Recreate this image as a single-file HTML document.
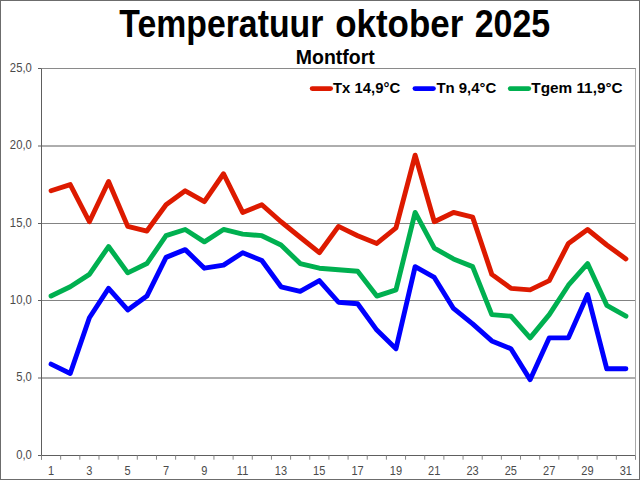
<!DOCTYPE html>
<html><head><meta charset="utf-8"><title>Temperatuur oktober 2025</title>
<style>html,body{margin:0;padding:0;background:#fff;}body{width:640px;height:480px;overflow:hidden;}svg{display:block;}text{font-family:"Liberation Sans",sans-serif;}</style>
</head><body>
<svg width="640" height="480" viewBox="0 0 640 480">
<rect x="0" y="0" width="640" height="480" fill="#ffffff"/>
<line x1="41.5" y1="378.0" x2="635.5" y2="378.0" stroke="#5c5c5c" stroke-width="1"/>
<line x1="41.5" y1="300.5" x2="635.5" y2="300.5" stroke="#838383" stroke-width="1"/>
<line x1="41.5" y1="223.5" x2="635.5" y2="223.5" stroke="#838383" stroke-width="1"/>
<line x1="41.5" y1="146.0" x2="635.5" y2="146.0" stroke="#5c5c5c" stroke-width="1"/>
<line x1="41.5" y1="68.5" x2="636.0" y2="68.5" stroke="#8a8a8a" stroke-width="1"/>
<line x1="635.5" y1="68.5" x2="635.5" y2="459.5" stroke="#aaaaaa" stroke-width="1"/>
<polyline points="51.08,190.79 70.24,184.60 89.40,221.75 108.56,181.50 127.73,226.40 146.89,231.04 166.05,204.72 185.21,190.79 204.37,201.63 223.53,173.76 242.69,212.46 261.85,204.72 281.02,221.75 300.18,237.23 319.34,252.71 338.50,226.40 357.66,235.68 376.82,243.42 395.98,227.94 415.15,155.19 434.31,221.75 453.47,212.46 472.63,217.11 491.79,274.38 510.95,288.32 530.11,289.86 549.27,280.58 568.44,243.42 587.60,229.49 606.76,244.97 625.92,258.90" fill="none" stroke="#dd1a00" stroke-width="4.9" stroke-linecap="round" stroke-linejoin="round"/>
<polyline points="51.08,364.17 70.24,373.46 89.40,317.73 108.56,288.32 127.73,309.99 146.89,296.06 166.05,257.36 185.21,249.62 204.37,268.19 223.53,265.10 242.69,252.71 261.85,260.45 281.02,286.77 300.18,291.41 319.34,280.58 338.50,302.25 357.66,303.80 376.82,330.11 395.98,348.69 415.15,266.64 434.31,277.48 453.47,308.44 472.63,323.92 491.79,340.95 510.95,348.69 530.11,379.65 549.27,337.85 568.44,337.85 587.60,294.51 606.76,368.81 625.92,368.81" fill="none" stroke="#0000ff" stroke-width="4.9" stroke-linecap="round" stroke-linejoin="round"/>
<polyline points="51.08,296.06 70.24,286.77 89.40,274.38 108.56,246.52 127.73,272.84 146.89,263.55 166.05,235.68 185.21,229.49 204.37,241.88 223.53,229.49 242.69,234.14 261.85,235.68 281.02,244.97 300.18,263.55 319.34,268.19 338.50,269.74 357.66,271.29 376.82,296.06 395.98,289.86 415.15,212.46 434.31,248.07 453.47,258.90 472.63,266.64 491.79,314.63 510.95,316.18 530.11,337.85 549.27,314.63 568.44,285.22 587.60,263.55 606.76,305.34 625.92,316.18" fill="none" stroke="#00b050" stroke-width="4.9" stroke-linecap="round" stroke-linejoin="round"/>
<line x1="41.5" y1="68.5" x2="41.5" y2="459.5" stroke="#5e5e5e" stroke-width="1"/>
<line x1="38.0" y1="455.5" x2="635.0" y2="455.5" stroke="#5e5e5e" stroke-width="1"/>
<line x1="38.0" y1="455.50" x2="41.5" y2="455.50" stroke="#5e5e5e" stroke-width="1"/>
<text transform="translate(31.8,458.70) scale(0.94,1)" x="0" y="0" font-size="12" fill="#4a4a4a" text-anchor="end">0,0</text>
<line x1="38.0" y1="378.00" x2="41.5" y2="378.00" stroke="#5e5e5e" stroke-width="1"/>
<text transform="translate(31.8,381.20) scale(0.94,1)" x="0" y="0" font-size="12" fill="#4a4a4a" text-anchor="end">5,0</text>
<line x1="38.0" y1="300.50" x2="41.5" y2="300.50" stroke="#5e5e5e" stroke-width="1"/>
<text transform="translate(31.8,303.70) scale(0.94,1)" x="0" y="0" font-size="12" fill="#4a4a4a" text-anchor="end">10,0</text>
<line x1="38.0" y1="223.50" x2="41.5" y2="223.50" stroke="#5e5e5e" stroke-width="1"/>
<text transform="translate(31.8,226.70) scale(0.94,1)" x="0" y="0" font-size="12" fill="#4a4a4a" text-anchor="end">15,0</text>
<line x1="38.0" y1="146.00" x2="41.5" y2="146.00" stroke="#5e5e5e" stroke-width="1"/>
<text transform="translate(31.8,149.20) scale(0.94,1)" x="0" y="0" font-size="12" fill="#4a4a4a" text-anchor="end">20,0</text>
<line x1="38.0" y1="68.50" x2="41.5" y2="68.50" stroke="#5e5e5e" stroke-width="1"/>
<text transform="translate(31.8,71.70) scale(0.94,1)" x="0" y="0" font-size="12" fill="#4a4a4a" text-anchor="end">25,0</text>
<line x1="41.50" y1="455.5" x2="41.50" y2="459.7" stroke="#878787" stroke-width="1"/>
<line x1="60.66" y1="455.5" x2="60.66" y2="459.7" stroke="#878787" stroke-width="1"/>
<line x1="79.82" y1="455.5" x2="79.82" y2="459.7" stroke="#878787" stroke-width="1"/>
<line x1="98.98" y1="455.5" x2="98.98" y2="459.7" stroke="#878787" stroke-width="1"/>
<line x1="118.15" y1="455.5" x2="118.15" y2="459.7" stroke="#878787" stroke-width="1"/>
<line x1="137.31" y1="455.5" x2="137.31" y2="459.7" stroke="#878787" stroke-width="1"/>
<line x1="156.47" y1="455.5" x2="156.47" y2="459.7" stroke="#878787" stroke-width="1"/>
<line x1="175.63" y1="455.5" x2="175.63" y2="459.7" stroke="#878787" stroke-width="1"/>
<line x1="194.79" y1="455.5" x2="194.79" y2="459.7" stroke="#878787" stroke-width="1"/>
<line x1="213.95" y1="455.5" x2="213.95" y2="459.7" stroke="#878787" stroke-width="1"/>
<line x1="233.11" y1="455.5" x2="233.11" y2="459.7" stroke="#878787" stroke-width="1"/>
<line x1="252.27" y1="455.5" x2="252.27" y2="459.7" stroke="#878787" stroke-width="1"/>
<line x1="271.44" y1="455.5" x2="271.44" y2="459.7" stroke="#878787" stroke-width="1"/>
<line x1="290.60" y1="455.5" x2="290.60" y2="459.7" stroke="#878787" stroke-width="1"/>
<line x1="309.76" y1="455.5" x2="309.76" y2="459.7" stroke="#878787" stroke-width="1"/>
<line x1="328.92" y1="455.5" x2="328.92" y2="459.7" stroke="#878787" stroke-width="1"/>
<line x1="348.08" y1="455.5" x2="348.08" y2="459.7" stroke="#878787" stroke-width="1"/>
<line x1="367.24" y1="455.5" x2="367.24" y2="459.7" stroke="#878787" stroke-width="1"/>
<line x1="386.40" y1="455.5" x2="386.40" y2="459.7" stroke="#878787" stroke-width="1"/>
<line x1="405.56" y1="455.5" x2="405.56" y2="459.7" stroke="#878787" stroke-width="1"/>
<line x1="424.73" y1="455.5" x2="424.73" y2="459.7" stroke="#878787" stroke-width="1"/>
<line x1="443.89" y1="455.5" x2="443.89" y2="459.7" stroke="#878787" stroke-width="1"/>
<line x1="463.05" y1="455.5" x2="463.05" y2="459.7" stroke="#878787" stroke-width="1"/>
<line x1="482.21" y1="455.5" x2="482.21" y2="459.7" stroke="#878787" stroke-width="1"/>
<line x1="501.37" y1="455.5" x2="501.37" y2="459.7" stroke="#878787" stroke-width="1"/>
<line x1="520.53" y1="455.5" x2="520.53" y2="459.7" stroke="#878787" stroke-width="1"/>
<line x1="539.69" y1="455.5" x2="539.69" y2="459.7" stroke="#878787" stroke-width="1"/>
<line x1="558.85" y1="455.5" x2="558.85" y2="459.7" stroke="#878787" stroke-width="1"/>
<line x1="578.02" y1="455.5" x2="578.02" y2="459.7" stroke="#878787" stroke-width="1"/>
<line x1="597.18" y1="455.5" x2="597.18" y2="459.7" stroke="#878787" stroke-width="1"/>
<line x1="616.34" y1="455.5" x2="616.34" y2="459.7" stroke="#878787" stroke-width="1"/>
<line x1="635.50" y1="455.5" x2="635.50" y2="459.7" stroke="#878787" stroke-width="1"/>
<text transform="translate(50.98,474.8) scale(0.92,1)" x="0" y="0" font-size="12" fill="#4a4a4a" text-anchor="middle">1</text>
<text transform="translate(89.30,474.8) scale(0.92,1)" x="0" y="0" font-size="12" fill="#4a4a4a" text-anchor="middle">3</text>
<text transform="translate(127.63,474.8) scale(0.92,1)" x="0" y="0" font-size="12" fill="#4a4a4a" text-anchor="middle">5</text>
<text transform="translate(165.95,474.8) scale(0.92,1)" x="0" y="0" font-size="12" fill="#4a4a4a" text-anchor="middle">7</text>
<text transform="translate(204.27,474.8) scale(0.92,1)" x="0" y="0" font-size="12" fill="#4a4a4a" text-anchor="middle">9</text>
<text transform="translate(242.59,474.8) scale(0.92,1)" x="0" y="0" font-size="12" fill="#4a4a4a" text-anchor="middle">11</text>
<text transform="translate(280.92,474.8) scale(0.92,1)" x="0" y="0" font-size="12" fill="#4a4a4a" text-anchor="middle">13</text>
<text transform="translate(319.24,474.8) scale(0.92,1)" x="0" y="0" font-size="12" fill="#4a4a4a" text-anchor="middle">15</text>
<text transform="translate(357.56,474.8) scale(0.92,1)" x="0" y="0" font-size="12" fill="#4a4a4a" text-anchor="middle">17</text>
<text transform="translate(395.88,474.8) scale(0.92,1)" x="0" y="0" font-size="12" fill="#4a4a4a" text-anchor="middle">19</text>
<text transform="translate(434.21,474.8) scale(0.92,1)" x="0" y="0" font-size="12" fill="#4a4a4a" text-anchor="middle">21</text>
<text transform="translate(472.53,474.8) scale(0.92,1)" x="0" y="0" font-size="12" fill="#4a4a4a" text-anchor="middle">23</text>
<text transform="translate(510.85,474.8) scale(0.92,1)" x="0" y="0" font-size="12" fill="#4a4a4a" text-anchor="middle">25</text>
<text transform="translate(549.17,474.8) scale(0.92,1)" x="0" y="0" font-size="12" fill="#4a4a4a" text-anchor="middle">27</text>
<text transform="translate(587.50,474.8) scale(0.92,1)" x="0" y="0" font-size="12" fill="#4a4a4a" text-anchor="middle">29</text>
<text transform="translate(625.82,474.8) scale(0.92,1)" x="0" y="0" font-size="12" fill="#4a4a4a" text-anchor="middle">31</text>
<text transform="translate(119.3,36.7) scale(0.871,1)" x="0" y="0" font-size="38.8" font-weight="bold" fill="#000">Temperatuur</text>
<text transform="translate(335.2,36.7) scale(0.9,1)" x="0" y="0" font-size="38.8" font-weight="bold" fill="#000">oktober</text>
<text transform="translate(474.7,36.7) scale(0.875,1)" x="0" y="0" font-size="38.8" font-weight="bold" fill="#000">2025</text>
<text transform="translate(335.3,63.8) scale(0.945,1)" x="0" y="0" font-size="20.6" font-weight="bold" fill="#000" text-anchor="middle">Montfort</text>
<line x1="312.2" y1="88.6" x2="330.6" y2="88.6" stroke="#dd1a00" stroke-width="4.9" stroke-linecap="round"/>
<text transform="translate(333,93) scale(0.96,1)" x="0" y="0" font-size="15.5" font-weight="bold" fill="#000">Tx 14,9°C</text>
<line x1="415.0" y1="88.6" x2="433.40000000000003" y2="88.6" stroke="#0000ff" stroke-width="4.9" stroke-linecap="round"/>
<text transform="translate(436.40000000000003,93) scale(0.965,1)" x="0" y="0" font-size="15.5" font-weight="bold" fill="#000">Tn 9,4°C</text>
<line x1="510.3" y1="88.6" x2="528.7" y2="88.6" stroke="#00b050" stroke-width="4.9" stroke-linecap="round"/>
<text transform="translate(531.3000000000001,93) scale(0.99,1)" x="0" y="0" font-size="15.5" font-weight="bold" fill="#000">Tgem 11,9°C</text>
<rect x="0.5" y="0.5" width="639" height="479" fill="none" stroke="#6c6c6c" stroke-width="1"/>
</svg></body></html>
